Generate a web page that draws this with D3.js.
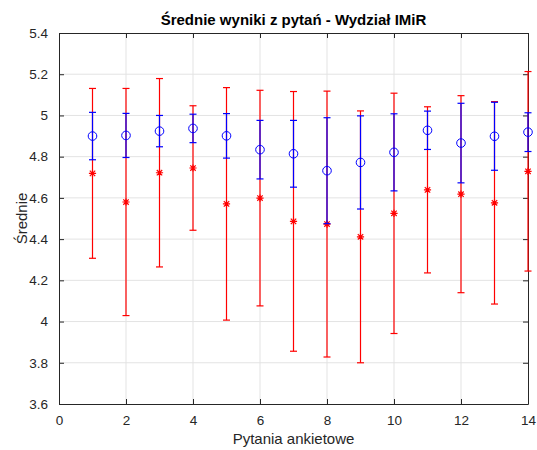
<!DOCTYPE html>
<html><head><meta charset="utf-8">
<script src="https://cdn.jsdelivr.net/npm/d3@7"></script>
<style>body{margin:0;background:#fff}svg{display:block}text{font-family:"Liberation Sans",Arial,sans-serif}</style>
</head><body><svg id="c" width="537" height="450"></svg>
<script>
const questions = [1,2,3,4,5,6,7,8,9,10,11,12,13,14];
const blueMean = [4.900,4.903,4.924,4.937,4.901,4.834,4.814,4.732,4.772,4.821,4.928,4.866,4.899,4.919];
const blueErr  = [0.115,0.107,0.076,0.069,0.108,0.142,0.162,0.257,0.226,0.187,0.093,0.193,0.165,0.094];
const redMean  = [4.719,4.580,4.722,4.745,4.571,4.599,4.486,4.473,4.411,4.525,4.639,4.618,4.576,4.729];
const redErr   = [0.412,0.551,0.457,0.302,0.564,0.523,0.630,0.645,0.611,0.583,0.403,0.478,0.491,0.484];
const xTicks = [0,2,4,6,8,10,12,14];
const yTicks = [3.6,3.8,4,4.2,4.4,4.6,4.8,5,5.2,5.4];
const titleText = "Średnie wyniki z pytań - Wydział IMiR";
const xLabel = "Pytania ankietowe";
const yLabel = "Średnie";

const svg = d3.select("#c");
const L=59, R=528, T=33, B=404;
const x = d3.scaleLinear().domain([0,14]).range([L,R]);
const y = d3.scaleLinear().domain([3.6,5.4]).range([B,T]);
const axisCol="#262626", gridCol="#e3e3e3";

// grid
const g = svg.append("g");
g.selectAll(".gx").data(xTicks.slice(1,-1)).join("line")
  .attr("x1",d=>x(d)).attr("x2",d=>x(d)).attr("y1",T).attr("y2",B)
  .attr("stroke",gridCol).attr("stroke-width",1);
g.selectAll(".gy").data(yTicks.slice(1,-1)).join("line")
  .attr("y1",d=>y(d)).attr("y2",d=>y(d)).attr("x1",L).attr("x2",R)
  .attr("stroke",gridCol).attr("stroke-width",1);

// axes via d3
const fmt = d=>String(d);
svg.append("g").attr("transform",`translate(0,${B})`)
  .call(d3.axisBottom(x).tickValues(xTicks).tickFormat(fmt).tickSizeInner(-5).tickSizeOuter(0).tickPadding(11))
  .call(a=>{a.select(".domain").attr("stroke",axisCol);a.selectAll("line").attr("stroke",axisCol);
    a.selectAll("text").attr("fill",axisCol).attr("font-size",13.5).attr("font-family","Liberation Sans, Arial, sans-serif");});
svg.append("g").attr("transform",`translate(0,${T})`)
  .call(d3.axisTop(x).tickValues(xTicks).tickFormat("").tickSizeInner(-5).tickSizeOuter(0))
  .call(a=>{a.select(".domain").attr("stroke",axisCol);a.selectAll("line").attr("stroke",axisCol);});
svg.append("g").attr("transform",`translate(${L},0)`)
  .call(d3.axisLeft(y).tickValues(yTicks).tickFormat(fmt).tickSizeInner(-5).tickSizeOuter(0).tickPadding(11))
  .call(a=>{a.select(".domain").attr("stroke",axisCol);a.selectAll("line").attr("stroke",axisCol);
    a.selectAll("text").attr("fill",axisCol).attr("font-size",13.5).attr("font-family","Liberation Sans, Arial, sans-serif");});
svg.append("g").attr("transform",`translate(${R},0)`)
  .call(d3.axisRight(y).tickValues(yTicks).tickFormat("").tickSizeInner(-5).tickSizeOuter(0))
  .call(a=>{a.select(".domain").attr("stroke",axisCol);a.selectAll("line").attr("stroke",axisCol);});

// error bars
function errorBars(means, errs, color, cls){
  const gg = svg.append("g").attr("class",cls);
  const data = questions.map((q,i)=>({q, m:means[i], e:errs[i]}));
  const cw = 3.5;
  gg.selectAll("line.v").data(data).join("line")
    .attr("x1",d=>x(d.q)).attr("x2",d=>x(d.q)).attr("y1",d=>y(d.m-d.e)).attr("y2",d=>y(d.m+d.e))
    .attr("stroke",color).attr("stroke-width",1.2);
  gg.selectAll("line.t").data(data).join("line")
    .attr("x1",d=>x(d.q)-cw).attr("x2",d=>x(d.q)+cw).attr("y1",d=>y(d.m+d.e)).attr("y2",d=>y(d.m+d.e))
    .attr("stroke",color).attr("stroke-width",1.2);
  gg.selectAll("line.b").data(data).join("line")
    .attr("x1",d=>x(d.q)-cw).attr("x2",d=>x(d.q)+cw).attr("y1",d=>y(d.m-d.e)).attr("y2",d=>y(d.m-d.e))
    .attr("stroke",color).attr("stroke-width",1.2);
  return {gg,data};
}
const red = errorBars(redMean, redErr, "#ff0000", "red");
const blue = errorBars(blueMean, blueErr, "#0000ff", "blue");

// markers
const s = 3.6;
red.gg.selectAll("path.star").data(red.data).join("path")
  .attr("transform",d=>`translate(${x(d.q)},${y(d.m)})`)
  .attr("d",`M${-s},0H${s}M0,${-s}V${s}M${-s*0.75},${-s*0.75}L${s*0.75},${s*0.75}M${-s*0.75},${s*0.75}L${s*0.75},${-s*0.75}`)
  .attr("stroke","#ff0000").attr("stroke-width",1.2).attr("fill","none");
blue.gg.selectAll("circle").data(blue.data).join("circle")
  .attr("cx",d=>x(d.q)).attr("cy",d=>y(d.m)).attr("r",4.3)
  .attr("fill","none").attr("stroke","#0000ff").attr("stroke-width",1);

// texts
svg.append("text").attr("x",(L+R)/2).attr("y",25).attr("text-anchor","middle")
  .attr("font-weight","bold").attr("font-size",15).attr("fill","#000").text(titleText);
svg.append("text").attr("x",(L+R)/2).attr("y",444).attr("text-anchor","middle")
  .attr("font-size",15).attr("fill",axisCol).text(xLabel);
svg.append("text").attr("transform",`translate(27,${(T+B)/2}) rotate(-90)`).attr("text-anchor","middle")
  .attr("font-size",15).attr("fill",axisCol).text(yLabel);
</script></body></html>
